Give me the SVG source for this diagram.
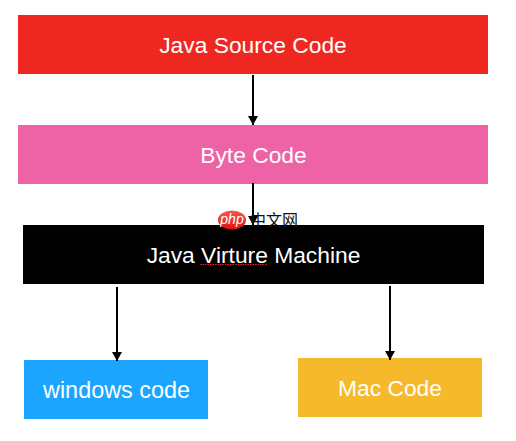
<svg xmlns="http://www.w3.org/2000/svg" width="516" height="441" viewBox="0 0 516 441">
  <defs>
    <marker id="arrow" markerUnits="userSpaceOnUse" markerWidth="9" markerHeight="10" refX="9" refY="5" orient="auto" viewBox="0 0 9 10">
      <path d="M0 0L9 5L0 10Z" fill="#000"/>
    </marker>
    <linearGradient id="phpg" x1="0" y1="0" x2="0" y2="1">
      <stop offset="0" stop-color="#f55a50"/>
      <stop offset="1" stop-color="#e0100f"/>
    </linearGradient>
  </defs>
  <style>
    .label { font-family: "Liberation Sans", Arial, sans-serif; font-size: 22.8px; fill: #fff; text-anchor: middle; }
    .conn { stroke: #000; stroke-width: 2; fill: none; marker-end: url(#arrow); }
  </style>
  <rect width="516" height="441" fill="#fff"/>
  <g id="node-source">
    <rect x="18" y="15" width="470" height="59" fill="#ee2820"/>
    <text class="label" x="253" y="53">Java Source Code</text>
  </g>
  <g id="node-bytecode">
    <rect x="18" y="125" width="470" height="59" fill="#ee62a6"/>
    <text class="label" x="253.500" y="163">Byte Code</text>
  </g>
  <g id="node-jvm">
    <rect x="23" y="225" width="461" height="59" fill="#000"/>
    <text class="label" x="253.500" y="263">Java Virture Machine</text>
    <line x1="200" y1="264.500" x2="267" y2="264.500" stroke="#e0202a" stroke-width="1" stroke-dasharray="1.500 1"/>
  </g>
  <g id="node-windows">
    <rect x="24" y="360" width="184" height="59" fill="#1ca5ff"/>
    <text class="label" x="116.500" y="398" style="font-size:23.4px">windows code</text>
  </g>
  <g id="node-mac">
    <rect x="298" y="358" width="184" height="59" fill="#f6b92b"/>
    <text class="label" x="390" y="396">Mac Code</text>
  </g>
  <g id="connectors">
    <line class="conn" x1="253" y1="75" x2="253" y2="125"/>
    <line class="conn" x1="253" y1="183" x2="253" y2="225"/>
    <line class="conn" x1="117" y1="287" x2="117" y2="361"/>
    <line class="conn" x1="390" y1="286" x2="390" y2="360"/>
  </g>
  <g id="watermark">
    <ellipse cx="232" cy="220" rx="14" ry="9.500" fill="url(#phpg)"/>
    <text x="232" y="224" font-family="'Liberation Sans', Arial, sans-serif" font-size="14" font-style="italic" fill="#fff" text-anchor="middle">php</text>
    <text x="250" y="226" font-family="'Noto Sans CJK SC', sans-serif" font-size="16" fill="#111">中文网</text>
  </g>
</svg>
